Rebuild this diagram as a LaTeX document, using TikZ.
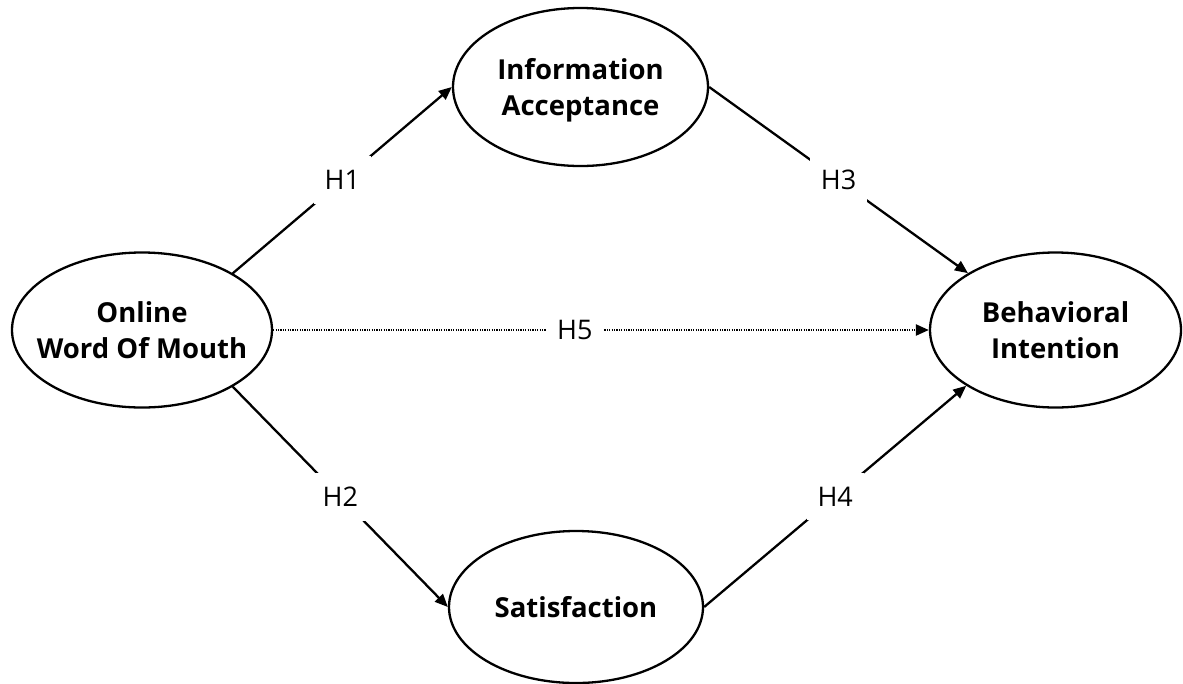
\documentclass[tikz,border=0pt]{standalone}
\usepackage{fontspec}
\setmainfont{Open Sans}
\usetikzlibrary{arrows.meta, shapes.geometric}

\begin{document}
\begin{tikzpicture}[x=1pt, y=-1pt,
    costrutto/.style={draw, ellipse, line width=2.3pt, inner sep=0pt, align=center,
        text depth=0pt, font=\fontsize{27.5}{36}\selectfont\bfseries},
    ipotesi/.style={fill=white, inner xsep=11pt, inner ysep=14pt,
        font=\fontsize{27}{30}\selectfont},
    freccia/.style={line width=2.3pt, -{Triangle[length=13pt, width=11pt]}}]

    \useasboundingbox (0,0) rectangle (1183,683);

    % Costrutti
    \node[costrutto, inner xsep=-20pt, minimum width=260pt, minimum height=155pt] (owom) at (142,330) {Online\\Word Of Mouth};
    \node[costrutto, minimum width=255pt, minimum height=158pt] (ia) at (580.5,87) {Information\\Acceptance};
    \node[costrutto, minimum width=254pt, minimum height=152pt] (sat) at (576,607) {Satisfaction};
    \node[costrutto, minimum width=251pt, minimum height=155pt] (bi) at (1055.5,330) {Behavioral\\Intention};

    % Ipotesi
    \draw[freccia] (owom.32) -- node[ipotesi] {H1} (ia.180);
    \draw[freccia] (owom.328) -- node[ipotesi] {H2} (sat.180);
    \draw[freccia] (ia.0) -- node[ipotesi] {H3} (bi.147);
    \draw[freccia] (sat.0) -- node[ipotesi] {H4} (bi.212);

    % Effetto diretto
    \draw[freccia, dash pattern=on 1.3pt off 1.1pt] (owom.0) -- node[ipotesi, pos=0.46] {H5} (bi.180);
\end{tikzpicture}
\end{document}
